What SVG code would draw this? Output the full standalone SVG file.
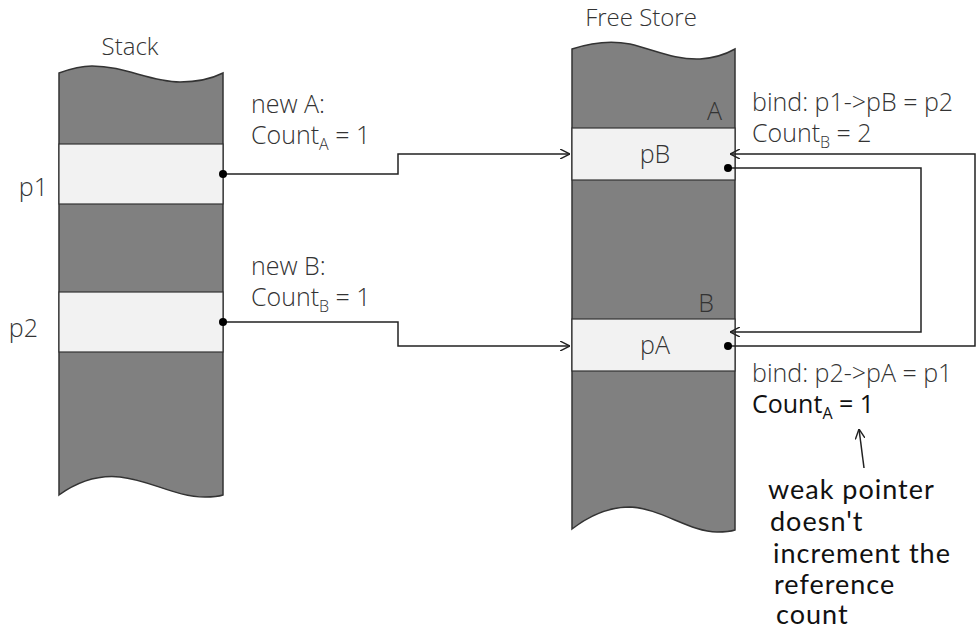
<svg xmlns="http://www.w3.org/2000/svg" width="976" height="639" viewBox="0 0 976 639">
<style>
.mem{fill:#808080;stroke:#333;stroke-width:1.5}
.slot{fill:#f2f2f2;stroke:#333;stroke-width:1.2}
.t{font-family:"Open Sans","Segoe UI","Liberation Sans",sans-serif;font-weight:300;font-size:25px;fill:#333}
.tb{font-family:"Open Sans","Segoe UI","Liberation Sans",sans-serif;font-weight:400;font-size:25px;fill:#111}
.sub{font-size:16px}
.hand{font-family:"Comic Sans MS","Lato",cursive;font-size:27px;letter-spacing:1px;fill:#111}
.con{fill:none;stroke:#222;stroke-width:1.5}
.dot{fill:#000}
</style>
<defs>
<marker id="arr" viewBox="0 0 10 10" refX="10" refY="5" markerWidth="10" markerHeight="10" markerUnits="userSpaceOnUse" orient="auto">
<path d="M0,0 L10,5 L0,10" fill="none" stroke="#222" stroke-width="1.4"/>
</marker>
</defs>
<text class="t" x="130" y="55" text-anchor="middle" style="font-size:24px">Stack</text>
<text class="t" x="641" y="26" text-anchor="middle" style="font-size:24px">Free Store</text>
<g id="stack">
<path class="mem" d="M59,73 C70,69 80,66 92,66 C125,66 150,82 180,82 C200,82 215,77 223,73 L223,495 C220,496 212,497 205,497 C175,497 150,480 120,477 C100,475 80,480 59,495 Z"/>
</g>
<g id="p1">
<rect class="slot" x="59" y="144" width="164" height="60"/>
<text class="t" x="48" y="196" text-anchor="end">p1</text>
</g>
<g id="p2">
<rect class="slot" x="59" y="292" width="164" height="60"/>
<text class="t" x="38" y="337" text-anchor="end">p2</text>
</g>
<g id="freestore">
<path class="mem" d="M572,49 C590,43 610,40 630,44 C655,50 675,60 700,59 C715,58 728,53 735,49 L735,530 C732,531 725,532 717,532 C690,532 660,508 630,507 C610,507 590,515 572,529 Z"/>
<text class="t" x="722" y="120" text-anchor="end">A</text>
<text class="t" x="714" y="312" text-anchor="end">B</text>
</g>
<g id="pB">
<rect class="slot" x="572" y="128" width="163" height="52"/>
<text class="t" x="655" y="163" text-anchor="middle">pB</text>
</g>
<g id="pA">
<rect class="slot" x="572" y="319" width="163" height="52"/>
<text class="t" x="655" y="354" text-anchor="middle">pA</text>
</g>
<g id="connectors">
<path class="con" d="M223,174 H398 V154 H570" marker-end="url(#arr)"/>
<path class="con" d="M223,322 H398 V346 H570" marker-end="url(#arr)"/>
<path class="con" d="M728,168 H921 V332 H730" marker-end="url(#arr)"/>
<path class="con" d="M728,346 H975 V154 H730" marker-end="url(#arr)"/>
<path class="con" d="M864,468 L859,429" marker-end="url(#arr)"/>
<circle class="dot" cx="223" cy="174" r="4"/>
<circle class="dot" cx="223" cy="322" r="4"/>
<circle class="dot" cx="728" cy="168" r="4"/>
<circle class="dot" cx="728" cy="346" r="4"/>
</g>
<g id="labels">
<text class="t" x="251" y="113">new A:</text>
<text class="t" x="251" y="144">Count<tspan class="sub" dy="6">A</tspan><tspan dy="-6"> = 1</tspan></text>
<text class="t" x="251" y="275">new B:</text>
<text class="t" x="251" y="306">Count<tspan class="sub" dy="6">B</tspan><tspan dy="-6"> = 1</tspan></text>
<text class="t" x="752" y="111">bind: p1-&gt;pB = p2</text>
<text class="t" x="752" y="142">Count<tspan class="sub" dy="6">B</tspan><tspan dy="-6"> = 2</tspan></text>
<text class="t" x="752" y="382">bind: p2-&gt;pA = p1</text>
<text class="tb" x="752" y="413">Count<tspan class="sub" dy="6">A</tspan><tspan dy="-6"> = 1</tspan></text>
</g>
<g id="note">
<text class="hand" x="768" y="499">weak pointer</text>
<text class="hand" x="770" y="531">doesn't</text>
<text class="hand" x="773" y="563">increment the</text>
<text class="hand" x="774" y="594">reference</text>
<text class="hand" x="776" y="624">count</text>
</g>
</svg>
